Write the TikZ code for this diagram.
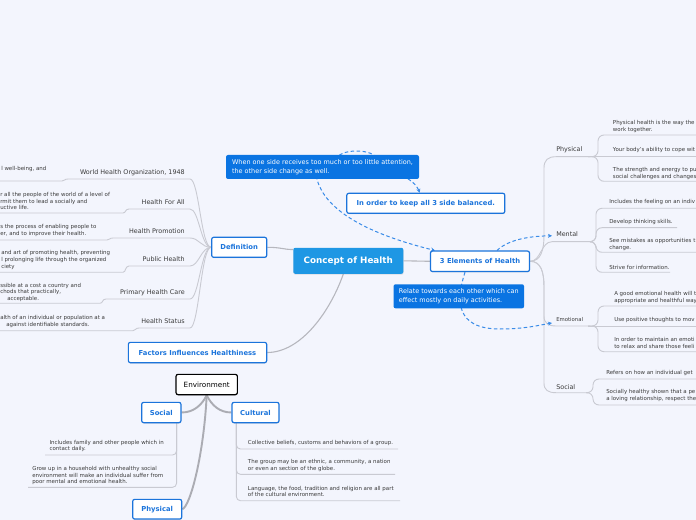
\documentclass[tikz,border=0pt]{standalone}
\usepackage{fontspec}
\setmainfont{DejaVu Sans}
\usetikzlibrary{arrows.meta,shadows,calc}
\newdimen\px \px=0.75pt
\pgfdeclarelayer{back}\pgfdeclarelayer{lines}
\pgfsetlayers{back,lines,main}
\definecolor{bgc}{HTML}{F3F5FD}
\definecolor{nblue}{HTML}{1B74DB}
\definecolor{cblue}{HTML}{1E97E4}
\definecolor{callblue}{HTML}{0A74E2}
\definecolor{dashblue}{HTML}{3A8CE8}
\definecolor{lgray}{HTML}{C9CAD2}
\definecolor{mgray}{HTML}{B6B7BE}
\definecolor{dgray}{HTML}{ABACB3}
\definecolor{tgray}{HTML}{3A3A3A}
\tikzset{
 connl/.style={draw=lgray, line width=0.9\px},
 conn/.style={draw=mgray, line width=1.1\px},
 envc/.style={draw=dgray, line width=1.9\px},
 dsh/.style={draw=dashblue, line width=1\px, dash pattern=on 3.5\px off 2.5\px, -{Stealth[length=3pt,width=3pt]}},
 shad/.style={drop shadow={shadow xshift=0.2pt, shadow yshift=-0.7pt, opacity=0.22}},
 wbox/.style={draw=nblue, line width=1.2\px, fill=white, rounded corners=2\px, text=nblue, font=\fontsize{5.1}{6}\selectfont\bfseries, inner sep=0, shad},
 call/.style={fill=callblue, rounded corners=2\px, text=white, font=\fontsize{4.85}{6.75}\selectfont, align=left, inner sep=0},
 lbl/.style={text=tgray, font=\fontsize{4.8}{6}\selectfont, inner sep=0},
 det/.style={text=tgray, font=\fontsize{4.1}{5}\selectfont, align=left, inner sep=0, anchor=west},
}
\begin{document}
\begin{tikzpicture}[x=0.75pt,y=-0.75pt]
\useasboundingbox (0,0) rectangle (696,520);
\begin{pgfonlayer}{back}
\fill[bgc] (0,0) rectangle (696,520);
\end{pgfonlayer}
\clip (0,0) rectangle (696,520);

% main nodes
\node[wbox, minimum width=55\px, minimum height=20\px] (def) at (239.2,247.3) {Definition};
\node[fill=cblue, rounded corners=2\px, minimum width=110\px, minimum height=26\px, text=white, font=\fontsize{6.6}{8}\selectfont\bfseries, inner sep=0, shad] (concept) at (348.3,260.8) {Concept of Health};
\node[wbox, minimum width=99\px, minimum height=20.5\px] (three) at (480,261.3) {3 Elements of Health};
\node[wbox, minimum width=158\px, minimum height=20\px] (keep) at (425.8,203.3) {In order to keep all 3 side balanced.};
\node[call, minimum width=193\px, minimum height=24\px] (c1) at (322.5,167) {When one side receives too much or too little attention,\\the other side change as well.};
\node[call, minimum width=130.5\px, minimum height=24\px] (c2) at (458.8,296.3) {Relate towards each other which can\\effect mostly on daily activities.};
\node[wbox, minimum width=138.3\px, minimum height=20.3\px] (fac) at (197.5,352.5) {Factors Influences Healthiness};
\node[draw=black, line width=1.2\px, fill=white, rounded corners=2\px, minimum width=61.3\px, minimum height=20.3\px, font=\fontsize{5.4}{6}\selectfont, inner sep=0, shad] (env) at (206.7,384.5) {Environment};
\node[wbox, minimum width=39.3\px, minimum height=20.3\px] (esoc) at (161.3,412.5) {Social};
\node[wbox, minimum width=47\px, minimum height=20.3\px] (ecul) at (255.5,412.5) {Cultural};
\node[wbox, minimum width=49\px, minimum height=19.7\px] (ephy) at (157.2,509.2) {Physical};

% left labels
\node[lbl, anchor=east] (who) at (185,172.7) {World Health Organization, 1948};
\node[lbl, anchor=east] (hfa) at (185,201.7) {Health For All};
\node[lbl, anchor=east] (hp) at (185,230.7) {Health Promotion};
\node[lbl, anchor=east] (ph) at (185,259.3) {Public Health};
\node[lbl, anchor=east] (phc) at (185,292.3) {Primary Health Care};
\node[lbl, anchor=east] (hs) at (185,321) {Health Status};

% left details
\node[det] (d1) at (1,169) {l well-being, and};
\node[det] (d2) at (0,201) {r all the people of the world of a level of\\rmit them to lead a socially and\\uctive life.};
\node[det] (d3) at (0,230.2) {s the process of enabling people to\\er, and to improve their health.};
\node[det] (d4) at (1,260) {and art of promoting health, preventing\\l prolonging life through the organized\\ciety};
\node[det] (d5) at (0,289) {ssible at a cost a country and\\chods that practically,};
\node[det] (d5b) at (7,299) {acceptable.};
\node[det] (d6) at (0,318) {alth of an individual or population at a};
\node[det] (d6b) at (6,325) {against identifiable standards.};

% right labels
\node[lbl, anchor=west] (rphys) at (556,149.3) {Physical};
\node[lbl, anchor=west] (rment) at (556,234.3) {Mental};
\node[lbl, anchor=west, font=\fontsize{4}{5}\selectfont] (remo) at (556,320) {Emotional};
\node[lbl, anchor=west] (rsoc) at (556,386.7) {Social};

% right details
\node[det] (p1) at (612.7,126.3) {Physical health is the way the\\work together.};
\node[det] (p2) at (612.7,149.7) {Your body's ability to cope wit};
\node[det] (p3) at (612.7,173.3) {The strength and energy to pu\\social challenges and changes};
\node[det] (m1) at (609,202) {Includes the feeling on an indiv};
\node[det] (m2) at (609,222.3) {Develop thinking skills.};
\node[det] (m3) at (609,244.5) {See mistakes as opportunities t\\change.};
\node[det] (m4) at (609,267) {Strive for information.};
\node[det] (e1) at (614,297.3) {A good emotional health will t\\appropriate and healthful way};
\node[det] (e2) at (614,320) {Use positive thoughts to mov};
\node[det] (e3) at (614,343) {In order to maintain an emoti\\to relax and share those feeli};
\node[det] (s1) at (606,373.3) {Refers on how an individual get};
\node[det] (s2) at (606,395.7) {Socially healthy shown that a pe\\a loving relationship, respect the};

% environment details
\node[det] (es1) at (49.3,446) {Includes family and other people which in\\contact daily.};
\node[det] (es2) at (32,475.5) {Grow up in a household with unhealthy social\\environment will make an individual suffer from\\poor mental and emotional health.};
\node[det] (ec1) at (247.7,443.3) {Collective beliefs, customs and behaviors of a group.};
\node[det] (ec2) at (247.7,465.7) {The group may be an ethnic, a community, a nation\\or even an section of the globe.};
\node[det] (ec3) at (247.7,491.3) {Language, the food, tradition and religion are all part\\of the cultural environment.};

\begin{pgfonlayer}{lines}
% centre connections
\draw[conn] (def.east) .. controls +(14,0) and +(-10,0) .. ($(concept.north west)+(0,2)$);
\draw[conn] (concept.east) -- (three.west);
\draw[conn] ($(concept.south)+(-5,0)$) .. controls +(-13,37) and +(34,0) .. (fac.east);

% definition branches
\foreach \yl/\yd/\xd in {179/181/62, 209/213/123, 238/240/107, 266/272.3/123, 299/303.3/100, 328/330.7/133} {
  \draw[connl] (-2,\yd) -- (\xd,\yd) .. controls (\xd+3,\yd) and (\xd+2,\yl) .. (\xd+6,\yl) -- (190,\yl) .. controls (199,\yl) and (201,247.3) .. (def.west);
}

% three elements branches
\draw[connl] (three.east) .. controls (541,261.3) and (544,250) .. (544,235) -- (544,168) .. controls (544,160) and (548,156.7) .. (556,156.7) -- (590,156.7);
\draw[connl] (three.east) .. controls (541,261.3) and (541,241.7) .. (552,241.7) -- (592,241.7);
\draw[connl] (three.east) .. controls (541,261.3) and (544,272) .. (544,287) -- (544,316) .. controls (544,323) and (548,326) .. (556,326) -- (590,326);
\draw[connl] (three.east) .. controls (541,261.3) and (544,272) .. (544,287) -- (544,383) .. controls (544,390) and (548,392.7) .. (556,392.7) -- (588,392.7);

% physical children
\draw[connl, rounded corners=6\px] (588,156.7) -| (598,135) -- (700,135);
\draw[connl] (588,156.7) -- (700,156.7);
\draw[connl, rounded corners=6\px] (588,156.7) -| (598,181.3) -- (700,181.3);
% mental children
\draw[connl, rounded corners=6\px] (590,241.7) -| (596,208.3) -- (700,208.3);
\draw[connl, rounded corners=6\px] (590,241.7) -| (596,227.7) -- (677,227.7);
\draw[connl, rounded corners=6\px] (590,241.7) -| (596,252.3) -- (700,252.3);
\draw[connl, rounded corners=6\px] (590,241.7) -| (596,272.3) -- (670,272.3);
% emotional children
\draw[connl, rounded corners=6\px] (588,326) -| (598,306) -- (700,306);
\draw[connl] (588,326) -- (700,326);
\draw[connl, rounded corners=6\px] (588,326) -| (598,351.7) -- (700,351.7);
% social children
\draw[connl, rounded corners=6\px] (586,392.7) -| (593,379) -- (700,379);
\draw[connl, rounded corners=6\px] (586,392.7) -| (593,405) -- (700,405);

% environment connections
\draw[envc] (env.south) .. controls +(-5,10) and +(12,0) .. (esoc.east);
\draw[envc] (env.south) .. controls +(5,10) and +(-12,0) .. (ecul.west);
\draw[envc] (env.south) .. controls +(-3,60) and +(8,-3) .. (ephy.east);

% environment details
\draw[connl, rounded corners=4\px] ($(esoc.south east)+(-5,0)$) |- (45,455);
\draw[connl, rounded corners=4\px] ($(esoc.south east)+(-5,0)$) |- (28,487.3);
\draw[connl, rounded corners=4\px] ($(ecul.south west)+(5,0)$) |- (398,449);
\draw[connl, rounded corners=4\px] ($(ecul.south west)+(5,0)$) |- (395,474.3);
\draw[connl, rounded corners=4\px] ($(ecul.south west)+(5,0)$) |- (400,500.7);

% dashed relations
\draw[dsh] ($(c1.center)+(13.5,-7)$) .. controls (338,148) and (375,148) .. ($(c1.center)+(55,-7)$) .. controls (392,172) and (414,178) .. ($(keep.north)+(-6,0)$);
\draw[dsh] ($(c1.center)+(-7,3)$) .. controls (318,215) and (385,238) .. ($(three.north west)+(5,0)$);
\draw[dsh] ($(three.north)+(17,0)$) .. controls (510,238) and (535,236) .. ($(rment.west)+(-4,1.5)$);
\draw[dsh] ($(three.south)+(-15,0)$) .. controls (456,300) and (455,329) .. (500,329) .. controls (525,329) and (540,325) .. ($(remo.west)+(-4,3)$);
\end{pgfonlayer}
\end{tikzpicture}
\end{document}
